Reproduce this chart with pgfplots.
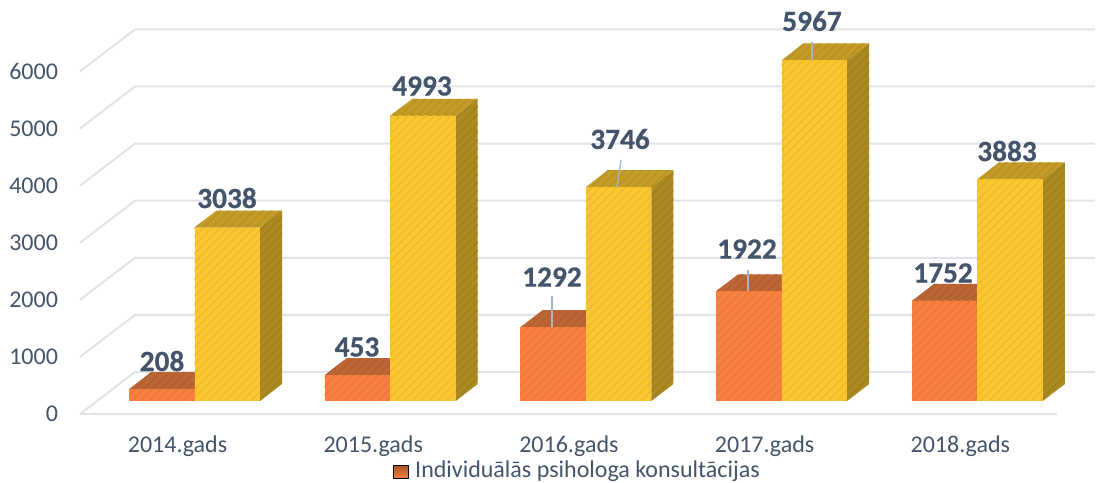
\documentclass[border=0pt]{standalone}
\usepackage{fontspec}
\setmainfont[BoldFeatures={FakeBold=0.5}]{Carlito}
\usepackage{pgfplots}
\pgfplotsset{compat=1.18}
\usetikzlibrary{patterns.meta}
\definecolor{txt}{HTML}{44546A}
\definecolor{gridc}{HTML}{E2E2EA}
\definecolor{orF}{HTML}{FA8040}
\definecolor{orT}{HTML}{BC6535}
\definecolor{orS}{HTML}{A85428}
\definecolor{yeF}{HTML}{FCC62E}
\definecolor{yeT}{HTML}{C39B26}
\definecolor{yeS}{HTML}{AB8A20}
\definecolor{leader}{HTML}{A9B5C4}
% one bar: left x, value, three colours
\newcommand\tdbar[5]{%
  \pgfmathsetmacro\xa{#1}%
  \pgfmathsetmacro\xb{#1+0.3347}%
  \pgfmathsetmacro\xc{#1+0.3347+0.1124}%
  \pgfmathsetmacro\xd{#1+0.1124}%
  \pgfmathsetmacro\yt{#2+297.7}%
  \addplot[draw=none,fill=#5,forget plot,postaction={pattern={Lines[angle=45,distance=4.5pt,line width=1.4pt]},pattern color=black!5!#5}] coordinates {(\xb,0) (\xc,297.7) (\xc,\yt) (\xb,#2)} --cycle;
  \addplot[draw=none,fill=#4,forget plot,postaction={pattern={Lines[angle=45,distance=4.5pt,line width=1.4pt]},pattern color=black!5!#4}] coordinates {(\xa,#2) (\xd,\yt) (\xc,\yt) (\xb,#2)} --cycle;
  \addplot[draw=none,fill=#3,forget plot,postaction={pattern={Lines[angle=45,distance=4.5pt,line width=1.4pt]},pattern color=black!5!#3}] coordinates {(\xa,0) (\xb,0) (\xb,#2) (\xa,#2)} --cycle;
}
\newcommand\pxc[2]{axis cs:{(#1-194.5)/195.7},{(401-(#2))/0.0571}}
\newcommand\lab[3]{\node[font=\bfseries\fontsize{22pt}{24pt}\selectfont,text=txt,inner sep=0pt] at (\pxc{#1}{#2}) {#3};}
\begin{document}
\begin{tikzpicture}
\useasboundingbox (0,0) rectangle (824.25pt,361.5pt);
\begin{axis}[
  at={(60pt,51pt)},anchor=south west,
  scale only axis,width=753.75pt,height=310.5pt,
  xmin=-0.5851,xmax=4.5503,ymin=-227.7,ymax=7022.8,
  clip=false,
  axis line style={draw=none},
  major tick length=0pt,
  xtick={0,1,2,3,4},
  xticklabels={2014.gads,2015.gads,2016.gads,2017.gads,2018.gads},
  xticklabel style={font=\fontsize{18pt}{20pt}\selectfont,text=txt,yshift=-24pt,xshift=-12.75pt,anchor=center},
  ytick={-228,772,1772,2772,3772,4772,5772},
  yticklabels={0,1000,2000,3000,4000,5000,6000},
  yticklabel style={font=\fontsize{18pt}{20pt}\selectfont,text=txt,anchor=east,xshift=-13pt,yshift=0pt},
  legend style={at={(\pxc{393}{470})},anchor=west,draw=none,fill=none,inner sep=0pt,outer sep=0pt,
    font=\fontsize{18pt}{20pt}\selectfont,text=txt,
    legend cell align=left},
  legend image code/.code={\fill[bottom color=orF,top color=orS] (0pt,-6.5pt) rectangle (11.25pt,3.5pt);},
]
\addlegendimage{}
\addlegendentry{\hspace*{3pt}Individuālās psihologa konsultācijas}
% grid: wall and floor
\pgfplotsinvokeforeach{0,1000,2000,3000,4000,5000,6000}{
  \pgfmathsetmacro\ga{#1-228}
  \pgfmathsetmacro\gb{#1+508}
  \addplot[gridc,line width=1.5pt,forget plot] coordinates {(-0.5851,\ga) (-0.304,\gb) (4.601,\gb)};
}
\addplot[gridc,line width=1.5pt,forget plot] coordinates {(-0.5851,-228) (4.407,-228)};
\tdbar{-0.3347}{208}{orF}{orT}{orS}
\tdbar{0}{3038}{yeF}{yeT}{yeS}
\tdbar{0.6653}{453}{orF}{orT}{orS}
\tdbar{1}{4993}{yeF}{yeT}{yeS}
\tdbar{1.6653}{1292}{orF}{orT}{orS}
\tdbar{2}{3746}{yeF}{yeT}{yeS}
\tdbar{2.6653}{1922}{orF}{orT}{orS}
\tdbar{3}{5967}{yeF}{yeT}{yeS}
\tdbar{3.6653}{1752}{orF}{orT}{orS}
\tdbar{4}{3883}{yeF}{yeT}{yeS}
% leader lines
\draw[leader,line width=1pt] (\pxc{552}{327}) -- (\pxc{552}{296});
\draw[leader,line width=1pt] (\pxc{617}{187}) -- (\pxc{621}{160});
\draw[leader,line width=1pt] (\pxc{748}{291}) -- (\pxc{748}{270});
\draw[leader,line width=1pt] (\pxc{812}{60}) -- (\pxc{812}{42});
\lab{162}{361}{208}
\lab{357}{347}{453}
\lab{552}{277}{1292}
\lab{227}{198}{3038}
\lab{422}{86}{4993}
\lab{620}{139}{3746}
\lab{747}{249}{1922}
\lab{812}{21}{5967}
\lab{943}{273}{1752}
\lab{1007}{151}{3883}
\end{axis}
\end{tikzpicture}
\end{document}
